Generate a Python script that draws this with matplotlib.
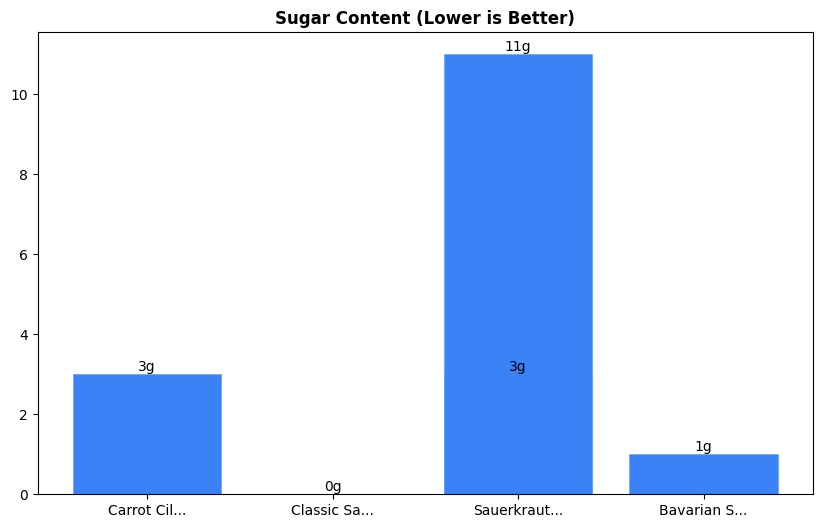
import matplotlib
matplotlib.use('Agg')
import matplotlib.pyplot as plt

# values (two products share the truncated name "Sauerkraut...")
labels = ['Carrot Cil...', 'Classic Sa...', 'Sauerkraut...', 'Sauerkraut...', 'Bavarian S...']
sugar = [3, 0, 3, 11, 1]

fig, ax = plt.subplots(figsize=(8.22, 5.28), dpi=100)
fig.subplots_adjust(left=0.046, right=0.989, top=0.939, bottom=0.064)

bars = ax.bar(labels, sugar, color='#3b82f6', edgecolor='#60a5fa', linewidth=0.5)
ax.bar_label(bars, labels=[f'{v}g' for v in sugar])

ax.set_title('Sugar Content (Lower is Better)', fontweight='bold')

fig.savefig('out.png', dpi=100)
